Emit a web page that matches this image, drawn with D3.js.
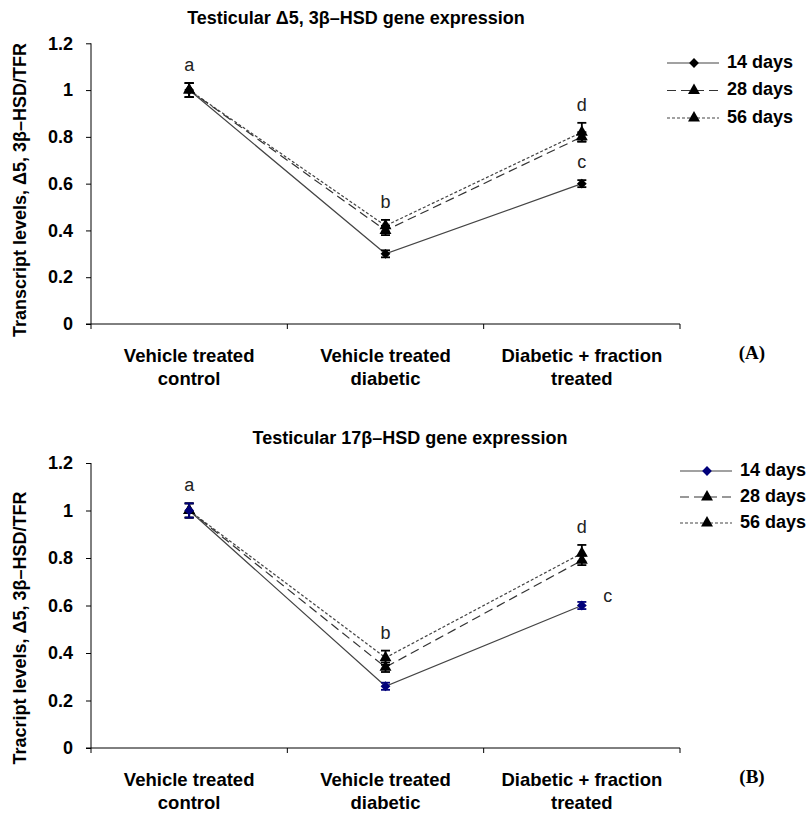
<html>
<head>
<script src="https://d3js.org/d3.v7.min.js"></script>
<style>
body {margin:0; background:white;}
text {font-family:"Liberation Sans", Arial, sans-serif;}
</style>
</head>
<body>
<svg id="chart" width="812" height="815"></svg>
<script>
// categories and tick labels
var categories = [["Vehicle treated","control"],["Vehicle treated","diabetic"],["Diabetic + fraction","treated"]];
var yTicks = [0, 0.2, 0.4, 0.6, 0.8, 1, 1.2];
var seriesNames = ["14 days", "28 days", "56 days"];

// panel A : testicular D5,3b-HSD
var a14 = [1.00, 0.30, 0.60];
var a28 = [1.00, 0.40, 0.80];
var a56 = [1.00, 0.42, 0.82];
var a14err = [0.03, 0.015, 0.015];
var a28err = [0.03, 0.02, 0.02];
var a56err = [0.03, 0.025, 0.04];
var aLetters = ["a", "b", "d", "c"];

// panel B : testicular 17b-HSD
var b14 = [1.00, 0.26, 0.60];
var b28 = [1.00, 0.34, 0.79];
var b56 = [1.00, 0.38, 0.82];
var b14err = [0.03, 0.015, 0.015];
var b28err = [0.03, 0.02, 0.02];
var b56err = [0.03, 0.03, 0.035];
var bLetters = ["a", "b", "d", "c"];

var svg = d3.select("#chart");

function marker(type, cx, cy, col, g) {
  if (type === "diamond") {
    g.append("path").attr("d", d3.symbol().type(d3.symbolSquare).size(48)())
      .attr("transform", "translate(" + cx + "," + cy + ") rotate(45)").attr("fill", col);
  } else {
    g.append("path").attr("d", d3.symbol().type(d3.symbolTriangle).size(62)())
      .attr("transform", "translate(" + cx + "," + cy + ")").attr("fill", col);
  }
}

function drawPanel(p) {
  var x = d3.scaleBand().domain(d3.range(categories.length)).range([91, 680]);
  var y = d3.scaleLinear().domain([0, 1.2]).range([p.bottom, p.top]);

  var g = svg.append("g");

  // title
  g.append("text").attr("x", p.titleX).attr("y", p.top - 24)
    .attr("text-anchor", "middle").attr("dominant-baseline", "middle")
    .style("font-size", "18px").style("font-weight", "bold").text(p.title);

  // y axis
  var yAxis = g.append("g").attr("transform", "translate(91,0)")
    .call(d3.axisLeft(y).tickValues(yTicks).tickSize(5).tickPadding(13).tickFormat(d3.format("~g")));
  yAxis.selectAll("text").style("font-size", "18px").style("font-weight", "bold").attr("fill", "#000");
  yAxis.selectAll("line,path").attr("stroke", "#000");
  yAxis.select(".domain").attr("d", "M0," + p.top + "V" + p.bottom);

  // x axis
  var xAxis = g.append("g").attr("transform", "translate(0," + p.bottom + ")");
  xAxis.append("line").attr("x1", 86).attr("x2", 680).attr("stroke", "#000");
  xAxis.selectAll(".tk").data(d3.range(categories.length + 1)).enter().append("line")
    .attr("x1", function(d) {return d < categories.length ? x(d) : x.range()[1];})
    .attr("x2", function(d) {return d < categories.length ? x(d) : x.range()[1];})
    .attr("y1", 0).attr("y2", 5).attr("stroke", "#000");
  categories.forEach(function(c, i) {
    var t = xAxis.append("text").attr("text-anchor", "middle")
      .style("font-size", "18.5px").style("font-weight", "bold");
    t.append("tspan").attr("x", x(i) + x.bandwidth() / 2).attr("y", 38).text(c[0]);
    t.append("tspan").attr("x", x(i) + x.bandwidth() / 2).attr("y", 61).text(c[1]);
  });

  // y label
  g.append("text").attr("transform", "translate(26," + p.labelY + ") rotate(-90)")
    .attr("text-anchor", "middle").style("font-size", "18px").style("font-weight", "bold")
    .text(p.ylabel);

  // panel tag
  g.append("text").attr("x", 752).attr("y", p.bottom + 35).attr("text-anchor", "middle")
    .style("font-family", "'Liberation Serif', 'Times New Roman', serif")
    .style("font-size", "19px").style("font-weight", "bold").text(p.tag);

  var cx = function(i) {return x(i) + x.bandwidth() / 2;};
  var styles = [
    {dash: null, stroke: "#444", marker: "diamond", color: p.col14},
    {dash: "9,5", stroke: "#333", marker: "triangle", color: "#000"},
    {dash: "3,2", stroke: "#444", marker: "triangle", color: "#000"}
  ];
  var line = d3.line().x(function(d, i) {return cx(i);}).y(function(d) {return y(d);});

  // lines, draw 56 first
  [2, 1, 0].forEach(function(s) {
    g.append("path").datum(p.series[s]).attr("d", line).attr("fill", "none")
      .attr("stroke", styles[s].stroke).attr("stroke-width", 1.2)
      .attr("stroke-dasharray", styles[s].dash);
  });

  // error bars and markers
  [2, 1, 0].forEach(function(s) {
    var st = styles[s];
    p.series[s].forEach(function(v, i) {
      var e = p.errs[s][i];
      var eb = g.append("g").attr("stroke", st.color).attr("stroke-width", 1.8);
      eb.append("line").attr("x1", cx(i)).attr("x2", cx(i)).attr("y1", y(v - e)).attr("y2", y(v + e));
      eb.append("line").attr("x1", cx(i) - 4.5).attr("x2", cx(i) + 4.5).attr("y1", y(v - e)).attr("y2", y(v - e));
      eb.append("line").attr("x1", cx(i) - 4.5).attr("x2", cx(i) + 4.5).attr("y1", y(v + e)).attr("y2", y(v + e));
      marker(st.marker, cx(i), y(v), st.color, g);
    });
  });

  // significance letters
  var top = function(i) {return d3.max([0, 1, 2], function(s) {return p.series[s][i] + p.errs[s][i];});};
  var lt = g.append("g").style("font-size", "18px").attr("fill", "#222").attr("text-anchor", "middle");
  lt.append("text").attr("x", cx(0)).attr("y", y(top(0)) - 12).text(p.letters[0]);
  lt.append("text").attr("x", cx(1)).attr("y", y(top(1)) - 12).text(p.letters[1]);
  lt.append("text").attr("x", cx(2)).attr("y", y(top(2)) - 12).text(p.letters[2]);
  var cTop = y(p.series[0][2] + p.errs[0][2]);
  lt.append("text").attr("x", cx(2) + p.cdx).attr("y", cTop - p.cdy).text(p.letters[3]);

  // legend
  var lg = g.append("g");
  seriesNames.forEach(function(n, s) {
    var ly = p.legY + s * p.legStep;
    lg.append("line").attr("x1", p.legX).attr("x2", p.legX + 52).attr("y1", ly).attr("y2", ly)
      .attr("stroke", styles[s].stroke).attr("stroke-width", 1.2).attr("stroke-dasharray", styles[s].dash);
    marker(styles[s].marker, p.legX + 27, ly, styles[s].color, lg);
    lg.append("text").attr("x", p.legX + 60).attr("y", ly).attr("dominant-baseline", "middle")
      .style("font-size", "18px").style("font-weight", "bold").text(n);
  });
}

drawPanel({
  top: 43.3, bottom: 324, title: "Testicular \u03945, 3\u03b2\u2013HSD gene expression", titleX: 356,
  ylabel: "Transcript levels, \u03945, 3\u03b2\u2013HSD/TFR", labelY: 190, tag: "(A)",
  series: [a14, a28, a56], errs: [a14err, a28err, a56err], letters: aLetters, col14: "#000",
  cdx: 0, cdy: 12, legX: 667, legY: 63, legStep: 27.5
});

drawPanel({
  top: 463, bottom: 748, title: "Testicular 17\u03b2\u2013HSD gene expression", titleX: 410,
  ylabel: "Tracript levels, \u03945, 3\u03b2\u2013HSD/TFR", labelY: 628, tag: "(B)",
  series: [b14, b28, b56], errs: [b14err, b28err, b56err], letters: bLetters, col14: "#00007a",
  cdx: 26, cdy: 0, legX: 680, legY: 471, legStep: 26
});
</script>
</body>
</html>
